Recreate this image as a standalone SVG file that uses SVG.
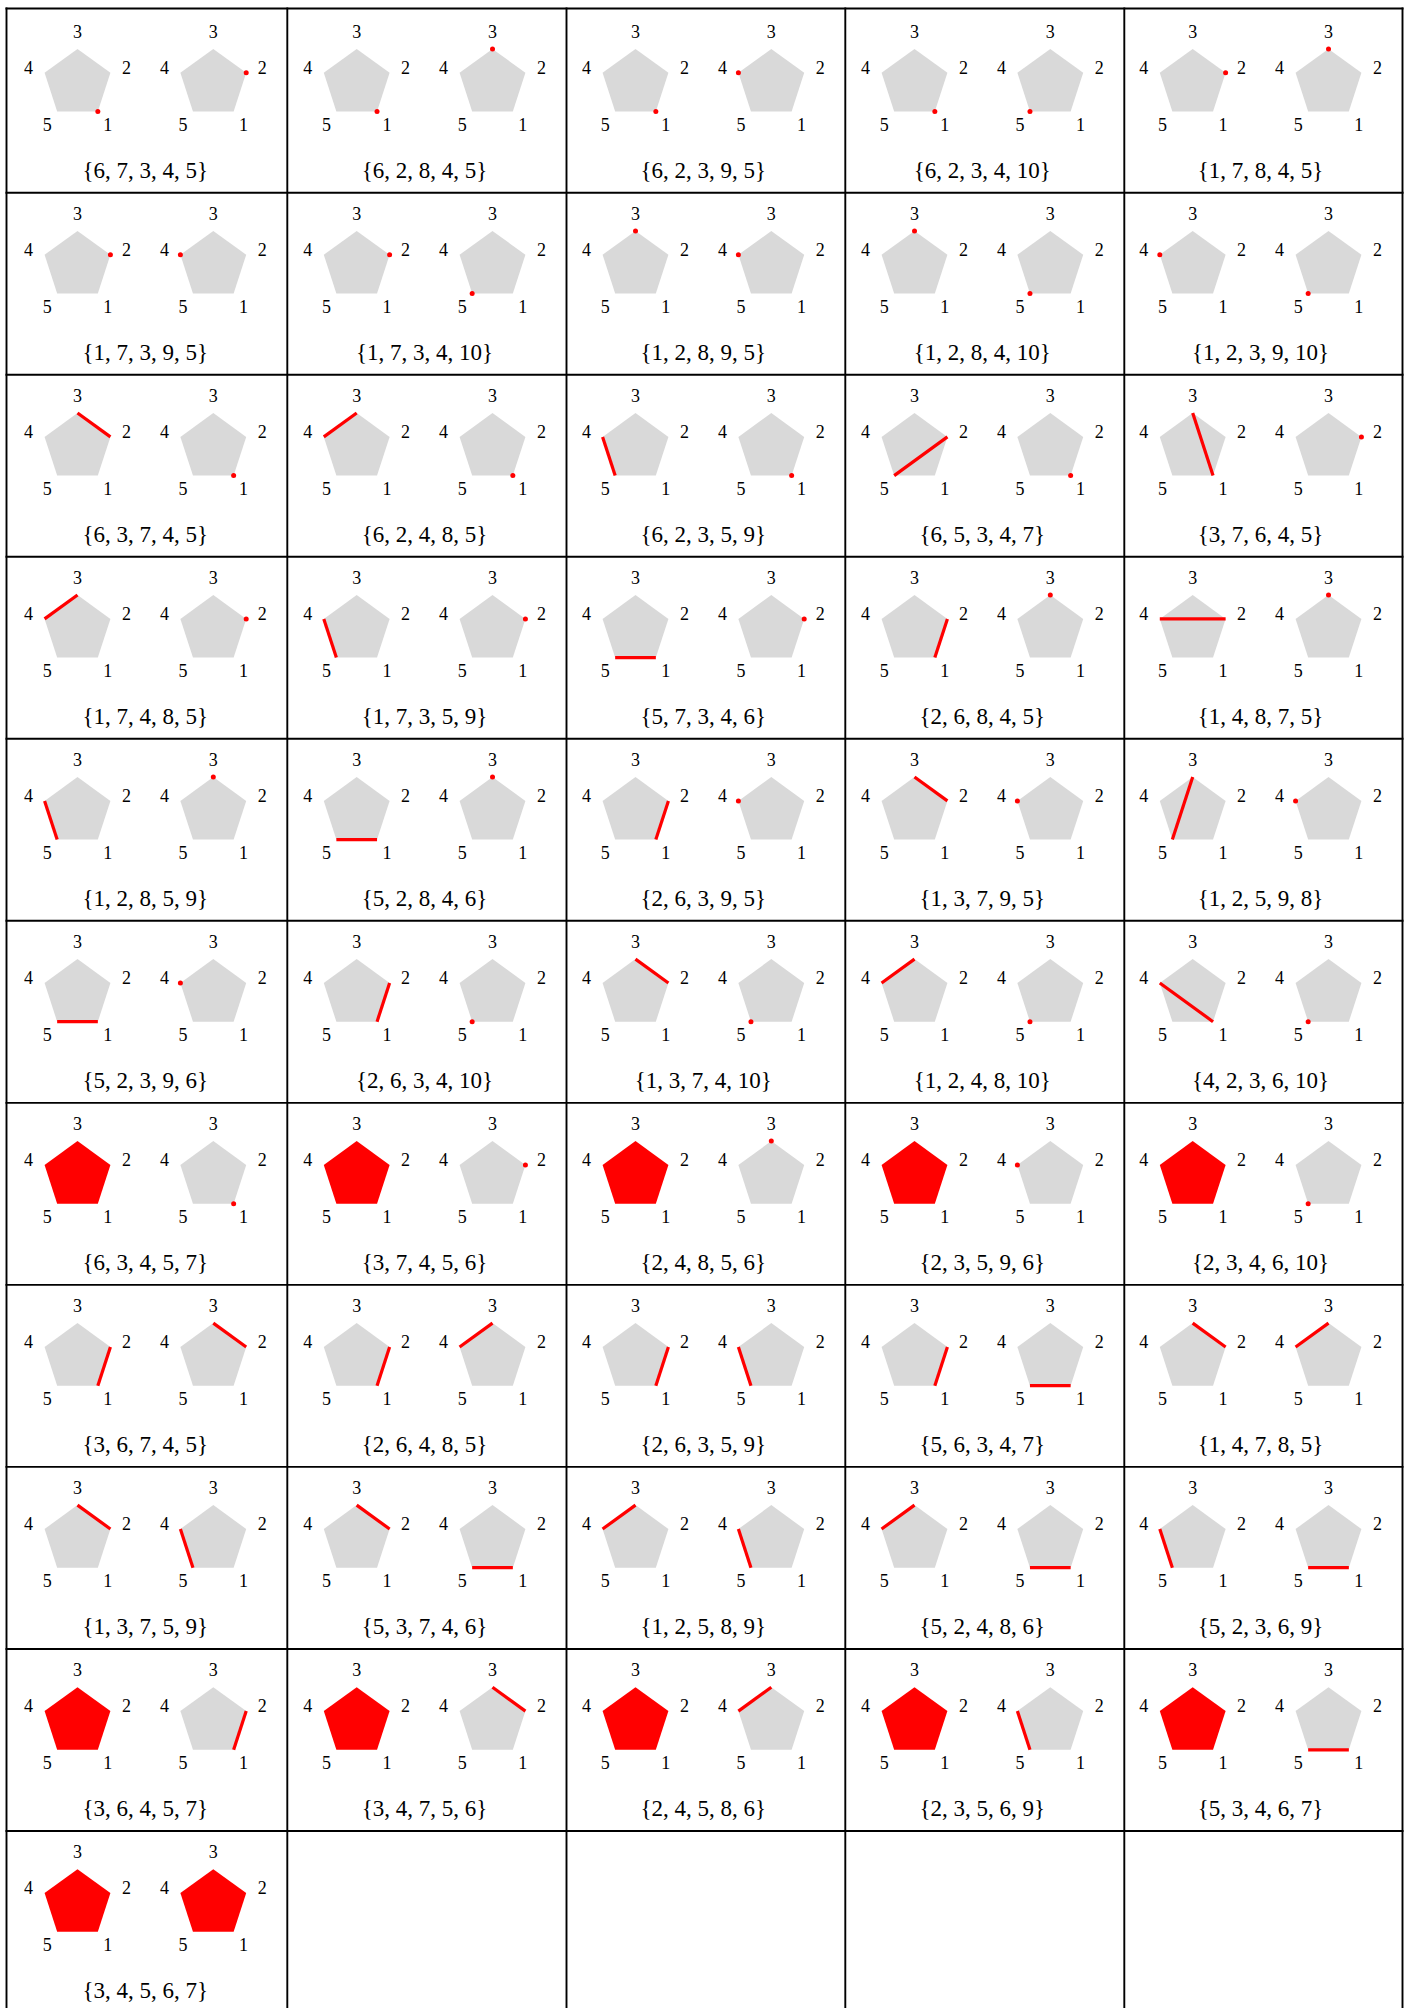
<svg xmlns="http://www.w3.org/2000/svg" xmlns:xlink="http://www.w3.org/1999/xlink" width="1418" height="2008" viewBox="0 0 1418 2008">
<style>
.v{font-family:"Liberation Serif","Times New Roman",serif;font-size:18px;text-anchor:middle;fill:#000}
.t{font-family:"Liberation Serif","Times New Roman",serif;font-size:23px;text-anchor:middle;fill:#000}
.d{fill:#ff0000}
.e{stroke:#ff0000;stroke-width:3.2;fill:none}
.g line{stroke:#000;stroke-width:1.9}
</style>
<defs>
<polygon id="pg" points="0,-34.6 32.91,-10.69 20.34,27.99 -20.34,27.99 -32.91,-10.69" fill="#d9d9d9"/>
<polygon id="pr" points="0,-34.6 32.91,-10.69 20.34,27.99 -20.34,27.99 -32.91,-10.69" fill="#ff0000"/>
</defs>
<rect width="1418" height="2008" fill="#fff"/>
<g id="grid" class="g">
<line x1="5.5" y1="8.5" x2="1403.5" y2="8.5"/>
<line x1="5.5" y1="192.7" x2="1403.5" y2="192.7"/>
<line x1="5.5" y1="374.73" x2="1403.5" y2="374.73"/>
<line x1="5.5" y1="556.76" x2="1403.5" y2="556.76"/>
<line x1="5.5" y1="738.79" x2="1403.5" y2="738.79"/>
<line x1="5.5" y1="920.82" x2="1403.5" y2="920.82"/>
<line x1="5.5" y1="1102.85" x2="1403.5" y2="1102.85"/>
<line x1="5.5" y1="1284.88" x2="1403.5" y2="1284.88"/>
<line x1="5.5" y1="1466.91" x2="1403.5" y2="1466.91"/>
<line x1="5.5" y1="1648.94" x2="1403.5" y2="1648.94"/>
<line x1="5.5" y1="1830.97" x2="1403.5" y2="1830.97"/>
<line x1="6.5" y1="7.5" x2="6.5" y2="2008"/>
<line x1="287.3" y1="7.5" x2="287.3" y2="2008"/>
<line x1="566.5" y1="7.5" x2="566.5" y2="2008"/>
<line x1="845.3" y1="7.5" x2="845.3" y2="2008"/>
<line x1="1124.3" y1="7.5" x2="1124.3" y2="2008"/>
<line x1="1402.5" y1="7.5" x2="1402.5" y2="2008"/>
</g>
<g id="connectors"/>

<!-- Row 1 -->
<g id="c1-1"><g transform="translate(77.5,83.5)"><use href="#pg"/><circle class="d" cx="20.34" cy="27.99" r="2.5"/><text class="v" y="-45.7">3</text><text class="v" x="48.9" y="-10">2</text><text class="v" x="30.2" y="47.3">1</text><text class="v" x="-30.2" y="47.3">5</text><text class="v" x="-48.9" y="-10">4</text></g><g transform="translate(213.3,83.5)"><use href="#pg"/><circle class="d" cx="32.91" cy="-10.69" r="2.5"/><text class="v" y="-45.7">3</text><text class="v" x="48.9" y="-10">2</text><text class="v" x="30.2" y="47.3">1</text><text class="v" x="-30.2" y="47.3">5</text><text class="v" x="-48.9" y="-10">4</text></g><text class="t" x="145.3" y="178">{6, 7, 3, 4, 5}</text></g>
<g id="c1-2"><g transform="translate(356.7,83.5)"><use href="#pg"/><circle class="d" cx="20.34" cy="27.99" r="2.5"/><text class="v" y="-45.7">3</text><text class="v" x="48.9" y="-10">2</text><text class="v" x="30.2" y="47.3">1</text><text class="v" x="-30.2" y="47.3">5</text><text class="v" x="-48.9" y="-10">4</text></g><g transform="translate(492.5,83.5)"><use href="#pg"/><circle class="d" cx="0" cy="-34.6" r="2.5"/><text class="v" y="-45.7">3</text><text class="v" x="48.9" y="-10">2</text><text class="v" x="30.2" y="47.3">1</text><text class="v" x="-30.2" y="47.3">5</text><text class="v" x="-48.9" y="-10">4</text></g><text class="t" x="424.5" y="178">{6, 2, 8, 4, 5}</text></g>
<g id="c1-3"><g transform="translate(635.5,83.5)"><use href="#pg"/><circle class="d" cx="20.34" cy="27.99" r="2.5"/><text class="v" y="-45.7">3</text><text class="v" x="48.9" y="-10">2</text><text class="v" x="30.2" y="47.3">1</text><text class="v" x="-30.2" y="47.3">5</text><text class="v" x="-48.9" y="-10">4</text></g><g transform="translate(771.3,83.5)"><use href="#pg"/><circle class="d" cx="-32.91" cy="-10.69" r="2.5"/><text class="v" y="-45.7">3</text><text class="v" x="48.9" y="-10">2</text><text class="v" x="30.2" y="47.3">1</text><text class="v" x="-30.2" y="47.3">5</text><text class="v" x="-48.9" y="-10">4</text></g><text class="t" x="703.3" y="178">{6, 2, 3, 9, 5}</text></g>
<g id="c1-4"><g transform="translate(914.5,83.5)"><use href="#pg"/><circle class="d" cx="20.34" cy="27.99" r="2.5"/><text class="v" y="-45.7">3</text><text class="v" x="48.9" y="-10">2</text><text class="v" x="30.2" y="47.3">1</text><text class="v" x="-30.2" y="47.3">5</text><text class="v" x="-48.9" y="-10">4</text></g><g transform="translate(1050.3,83.5)"><use href="#pg"/><circle class="d" cx="-20.34" cy="27.99" r="2.5"/><text class="v" y="-45.7">3</text><text class="v" x="48.9" y="-10">2</text><text class="v" x="30.2" y="47.3">1</text><text class="v" x="-30.2" y="47.3">5</text><text class="v" x="-48.9" y="-10">4</text></g><text class="t" x="982.3" y="178">{6, 2, 3, 4, 10}</text></g>
<g id="c1-5"><g transform="translate(1192.7,83.5)"><use href="#pg"/><circle class="d" cx="32.91" cy="-10.69" r="2.5"/><text class="v" y="-45.7">3</text><text class="v" x="48.9" y="-10">2</text><text class="v" x="30.2" y="47.3">1</text><text class="v" x="-30.2" y="47.3">5</text><text class="v" x="-48.9" y="-10">4</text></g><g transform="translate(1328.5,83.5)"><use href="#pg"/><circle class="d" cx="0" cy="-34.6" r="2.5"/><text class="v" y="-45.7">3</text><text class="v" x="48.9" y="-10">2</text><text class="v" x="30.2" y="47.3">1</text><text class="v" x="-30.2" y="47.3">5</text><text class="v" x="-48.9" y="-10">4</text></g><text class="t" x="1260.5" y="178">{1, 7, 8, 4, 5}</text></g>

<!-- Row 2 -->
<g id="c2-1"><g transform="translate(77.5,265.5)"><use href="#pg"/><circle class="d" cx="32.91" cy="-10.69" r="2.5"/><text class="v" y="-45.7">3</text><text class="v" x="48.9" y="-10">2</text><text class="v" x="30.2" y="47.3">1</text><text class="v" x="-30.2" y="47.3">5</text><text class="v" x="-48.9" y="-10">4</text></g><g transform="translate(213.3,265.5)"><use href="#pg"/><circle class="d" cx="-32.91" cy="-10.69" r="2.5"/><text class="v" y="-45.7">3</text><text class="v" x="48.9" y="-10">2</text><text class="v" x="30.2" y="47.3">1</text><text class="v" x="-30.2" y="47.3">5</text><text class="v" x="-48.9" y="-10">4</text></g><text class="t" x="145.3" y="360">{1, 7, 3, 9, 5}</text></g>
<g id="c2-2"><g transform="translate(356.7,265.5)"><use href="#pg"/><circle class="d" cx="32.91" cy="-10.69" r="2.5"/><text class="v" y="-45.7">3</text><text class="v" x="48.9" y="-10">2</text><text class="v" x="30.2" y="47.3">1</text><text class="v" x="-30.2" y="47.3">5</text><text class="v" x="-48.9" y="-10">4</text></g><g transform="translate(492.5,265.5)"><use href="#pg"/><circle class="d" cx="-20.34" cy="27.99" r="2.5"/><text class="v" y="-45.7">3</text><text class="v" x="48.9" y="-10">2</text><text class="v" x="30.2" y="47.3">1</text><text class="v" x="-30.2" y="47.3">5</text><text class="v" x="-48.9" y="-10">4</text></g><text class="t" x="424.5" y="360">{1, 7, 3, 4, 10}</text></g>
<g id="c2-3"><g transform="translate(635.5,265.5)"><use href="#pg"/><circle class="d" cx="0" cy="-34.6" r="2.5"/><text class="v" y="-45.7">3</text><text class="v" x="48.9" y="-10">2</text><text class="v" x="30.2" y="47.3">1</text><text class="v" x="-30.2" y="47.3">5</text><text class="v" x="-48.9" y="-10">4</text></g><g transform="translate(771.3,265.5)"><use href="#pg"/><circle class="d" cx="-32.91" cy="-10.69" r="2.5"/><text class="v" y="-45.7">3</text><text class="v" x="48.9" y="-10">2</text><text class="v" x="30.2" y="47.3">1</text><text class="v" x="-30.2" y="47.3">5</text><text class="v" x="-48.9" y="-10">4</text></g><text class="t" x="703.3" y="360">{1, 2, 8, 9, 5}</text></g>
<g id="c2-4"><g transform="translate(914.5,265.5)"><use href="#pg"/><circle class="d" cx="0" cy="-34.6" r="2.5"/><text class="v" y="-45.7">3</text><text class="v" x="48.9" y="-10">2</text><text class="v" x="30.2" y="47.3">1</text><text class="v" x="-30.2" y="47.3">5</text><text class="v" x="-48.9" y="-10">4</text></g><g transform="translate(1050.3,265.5)"><use href="#pg"/><circle class="d" cx="-20.34" cy="27.99" r="2.5"/><text class="v" y="-45.7">3</text><text class="v" x="48.9" y="-10">2</text><text class="v" x="30.2" y="47.3">1</text><text class="v" x="-30.2" y="47.3">5</text><text class="v" x="-48.9" y="-10">4</text></g><text class="t" x="982.3" y="360">{1, 2, 8, 4, 10}</text></g>
<g id="c2-5"><g transform="translate(1192.7,265.5)"><use href="#pg"/><circle class="d" cx="-32.91" cy="-10.69" r="2.5"/><text class="v" y="-45.7">3</text><text class="v" x="48.9" y="-10">2</text><text class="v" x="30.2" y="47.3">1</text><text class="v" x="-30.2" y="47.3">5</text><text class="v" x="-48.9" y="-10">4</text></g><g transform="translate(1328.5,265.5)"><use href="#pg"/><circle class="d" cx="-20.34" cy="27.99" r="2.5"/><text class="v" y="-45.7">3</text><text class="v" x="48.9" y="-10">2</text><text class="v" x="30.2" y="47.3">1</text><text class="v" x="-30.2" y="47.3">5</text><text class="v" x="-48.9" y="-10">4</text></g><text class="t" x="1260.5" y="360">{1, 2, 3, 9, 10}</text></g>

<!-- Row 3 -->
<g id="c3-1"><g transform="translate(77.5,447.6)"><use href="#pg"/><line class="e" x1="0" y1="-34.6" x2="32.91" y2="-10.69"/><text class="v" y="-45.7">3</text><text class="v" x="48.9" y="-10">2</text><text class="v" x="30.2" y="47.3">1</text><text class="v" x="-30.2" y="47.3">5</text><text class="v" x="-48.9" y="-10">4</text></g><g transform="translate(213.3,447.6)"><use href="#pg"/><circle class="d" cx="20.34" cy="27.99" r="2.5"/><text class="v" y="-45.7">3</text><text class="v" x="48.9" y="-10">2</text><text class="v" x="30.2" y="47.3">1</text><text class="v" x="-30.2" y="47.3">5</text><text class="v" x="-48.9" y="-10">4</text></g><text class="t" x="145.3" y="542.1">{6, 3, 7, 4, 5}</text></g>
<g id="c3-2"><g transform="translate(356.7,447.6)"><use href="#pg"/><line class="e" x1="0" y1="-34.6" x2="-32.91" y2="-10.69"/><text class="v" y="-45.7">3</text><text class="v" x="48.9" y="-10">2</text><text class="v" x="30.2" y="47.3">1</text><text class="v" x="-30.2" y="47.3">5</text><text class="v" x="-48.9" y="-10">4</text></g><g transform="translate(492.5,447.6)"><use href="#pg"/><circle class="d" cx="20.34" cy="27.99" r="2.5"/><text class="v" y="-45.7">3</text><text class="v" x="48.9" y="-10">2</text><text class="v" x="30.2" y="47.3">1</text><text class="v" x="-30.2" y="47.3">5</text><text class="v" x="-48.9" y="-10">4</text></g><text class="t" x="424.5" y="542.1">{6, 2, 4, 8, 5}</text></g>
<g id="c3-3"><g transform="translate(635.5,447.6)"><use href="#pg"/><line class="e" x1="-32.91" y1="-10.69" x2="-20.34" y2="27.99"/><text class="v" y="-45.7">3</text><text class="v" x="48.9" y="-10">2</text><text class="v" x="30.2" y="47.3">1</text><text class="v" x="-30.2" y="47.3">5</text><text class="v" x="-48.9" y="-10">4</text></g><g transform="translate(771.3,447.6)"><use href="#pg"/><circle class="d" cx="20.34" cy="27.99" r="2.5"/><text class="v" y="-45.7">3</text><text class="v" x="48.9" y="-10">2</text><text class="v" x="30.2" y="47.3">1</text><text class="v" x="-30.2" y="47.3">5</text><text class="v" x="-48.9" y="-10">4</text></g><text class="t" x="703.3" y="542.1">{6, 2, 3, 5, 9}</text></g>
<g id="c3-4"><g transform="translate(914.5,447.6)"><use href="#pg"/><line class="e" x1="-20.34" y1="27.99" x2="32.91" y2="-10.69"/><text class="v" y="-45.7">3</text><text class="v" x="48.9" y="-10">2</text><text class="v" x="30.2" y="47.3">1</text><text class="v" x="-30.2" y="47.3">5</text><text class="v" x="-48.9" y="-10">4</text></g><g transform="translate(1050.3,447.6)"><use href="#pg"/><circle class="d" cx="20.34" cy="27.99" r="2.5"/><text class="v" y="-45.7">3</text><text class="v" x="48.9" y="-10">2</text><text class="v" x="30.2" y="47.3">1</text><text class="v" x="-30.2" y="47.3">5</text><text class="v" x="-48.9" y="-10">4</text></g><text class="t" x="982.3" y="542.1">{6, 5, 3, 4, 7}</text></g>
<g id="c3-5"><g transform="translate(1192.7,447.6)"><use href="#pg"/><line class="e" x1="0" y1="-34.6" x2="20.34" y2="27.99"/><text class="v" y="-45.7">3</text><text class="v" x="48.9" y="-10">2</text><text class="v" x="30.2" y="47.3">1</text><text class="v" x="-30.2" y="47.3">5</text><text class="v" x="-48.9" y="-10">4</text></g><g transform="translate(1328.5,447.6)"><use href="#pg"/><circle class="d" cx="32.91" cy="-10.69" r="2.5"/><text class="v" y="-45.7">3</text><text class="v" x="48.9" y="-10">2</text><text class="v" x="30.2" y="47.3">1</text><text class="v" x="-30.2" y="47.3">5</text><text class="v" x="-48.9" y="-10">4</text></g><text class="t" x="1260.5" y="542.1">{3, 7, 6, 4, 5}</text></g>

<!-- Row 4 -->
<g id="c4-1"><g transform="translate(77.5,629.6)"><use href="#pg"/><line class="e" x1="0" y1="-34.6" x2="-32.91" y2="-10.69"/><text class="v" y="-45.7">3</text><text class="v" x="48.9" y="-10">2</text><text class="v" x="30.2" y="47.3">1</text><text class="v" x="-30.2" y="47.3">5</text><text class="v" x="-48.9" y="-10">4</text></g><g transform="translate(213.3,629.6)"><use href="#pg"/><circle class="d" cx="32.91" cy="-10.69" r="2.5"/><text class="v" y="-45.7">3</text><text class="v" x="48.9" y="-10">2</text><text class="v" x="30.2" y="47.3">1</text><text class="v" x="-30.2" y="47.3">5</text><text class="v" x="-48.9" y="-10">4</text></g><text class="t" x="145.3" y="724.1">{1, 7, 4, 8, 5}</text></g>
<g id="c4-2"><g transform="translate(356.7,629.6)"><use href="#pg"/><line class="e" x1="-32.91" y1="-10.69" x2="-20.34" y2="27.99"/><text class="v" y="-45.7">3</text><text class="v" x="48.9" y="-10">2</text><text class="v" x="30.2" y="47.3">1</text><text class="v" x="-30.2" y="47.3">5</text><text class="v" x="-48.9" y="-10">4</text></g><g transform="translate(492.5,629.6)"><use href="#pg"/><circle class="d" cx="32.91" cy="-10.69" r="2.5"/><text class="v" y="-45.7">3</text><text class="v" x="48.9" y="-10">2</text><text class="v" x="30.2" y="47.3">1</text><text class="v" x="-30.2" y="47.3">5</text><text class="v" x="-48.9" y="-10">4</text></g><text class="t" x="424.5" y="724.1">{1, 7, 3, 5, 9}</text></g>
<g id="c4-3"><g transform="translate(635.5,629.6)"><use href="#pg"/><line class="e" x1="-20.34" y1="27.99" x2="20.34" y2="27.99"/><text class="v" y="-45.7">3</text><text class="v" x="48.9" y="-10">2</text><text class="v" x="30.2" y="47.3">1</text><text class="v" x="-30.2" y="47.3">5</text><text class="v" x="-48.9" y="-10">4</text></g><g transform="translate(771.3,629.6)"><use href="#pg"/><circle class="d" cx="32.91" cy="-10.69" r="2.5"/><text class="v" y="-45.7">3</text><text class="v" x="48.9" y="-10">2</text><text class="v" x="30.2" y="47.3">1</text><text class="v" x="-30.2" y="47.3">5</text><text class="v" x="-48.9" y="-10">4</text></g><text class="t" x="703.3" y="724.1">{5, 7, 3, 4, 6}</text></g>
<g id="c4-4"><g transform="translate(914.5,629.6)"><use href="#pg"/><line class="e" x1="20.34" y1="27.99" x2="32.91" y2="-10.69"/><text class="v" y="-45.7">3</text><text class="v" x="48.9" y="-10">2</text><text class="v" x="30.2" y="47.3">1</text><text class="v" x="-30.2" y="47.3">5</text><text class="v" x="-48.9" y="-10">4</text></g><g transform="translate(1050.3,629.6)"><use href="#pg"/><circle class="d" cx="0" cy="-34.6" r="2.5"/><text class="v" y="-45.7">3</text><text class="v" x="48.9" y="-10">2</text><text class="v" x="30.2" y="47.3">1</text><text class="v" x="-30.2" y="47.3">5</text><text class="v" x="-48.9" y="-10">4</text></g><text class="t" x="982.3" y="724.1">{2, 6, 8, 4, 5}</text></g>
<g id="c4-5"><g transform="translate(1192.7,629.6)"><use href="#pg"/><line class="e" x1="-32.91" y1="-10.69" x2="32.91" y2="-10.69"/><text class="v" y="-45.7">3</text><text class="v" x="48.9" y="-10">2</text><text class="v" x="30.2" y="47.3">1</text><text class="v" x="-30.2" y="47.3">5</text><text class="v" x="-48.9" y="-10">4</text></g><g transform="translate(1328.5,629.6)"><use href="#pg"/><circle class="d" cx="0" cy="-34.6" r="2.5"/><text class="v" y="-45.7">3</text><text class="v" x="48.9" y="-10">2</text><text class="v" x="30.2" y="47.3">1</text><text class="v" x="-30.2" y="47.3">5</text><text class="v" x="-48.9" y="-10">4</text></g><text class="t" x="1260.5" y="724.1">{1, 4, 8, 7, 5}</text></g>

<!-- Row 5 -->
<g id="c5-1"><g transform="translate(77.5,811.6)"><use href="#pg"/><line class="e" x1="-32.91" y1="-10.69" x2="-20.34" y2="27.99"/><text class="v" y="-45.7">3</text><text class="v" x="48.9" y="-10">2</text><text class="v" x="30.2" y="47.3">1</text><text class="v" x="-30.2" y="47.3">5</text><text class="v" x="-48.9" y="-10">4</text></g><g transform="translate(213.3,811.6)"><use href="#pg"/><circle class="d" cx="0" cy="-34.6" r="2.5"/><text class="v" y="-45.7">3</text><text class="v" x="48.9" y="-10">2</text><text class="v" x="30.2" y="47.3">1</text><text class="v" x="-30.2" y="47.3">5</text><text class="v" x="-48.9" y="-10">4</text></g><text class="t" x="145.3" y="906.1">{1, 2, 8, 5, 9}</text></g>
<g id="c5-2"><g transform="translate(356.7,811.6)"><use href="#pg"/><line class="e" x1="-20.34" y1="27.99" x2="20.34" y2="27.99"/><text class="v" y="-45.7">3</text><text class="v" x="48.9" y="-10">2</text><text class="v" x="30.2" y="47.3">1</text><text class="v" x="-30.2" y="47.3">5</text><text class="v" x="-48.9" y="-10">4</text></g><g transform="translate(492.5,811.6)"><use href="#pg"/><circle class="d" cx="0" cy="-34.6" r="2.5"/><text class="v" y="-45.7">3</text><text class="v" x="48.9" y="-10">2</text><text class="v" x="30.2" y="47.3">1</text><text class="v" x="-30.2" y="47.3">5</text><text class="v" x="-48.9" y="-10">4</text></g><text class="t" x="424.5" y="906.1">{5, 2, 8, 4, 6}</text></g>
<g id="c5-3"><g transform="translate(635.5,811.6)"><use href="#pg"/><line class="e" x1="20.34" y1="27.99" x2="32.91" y2="-10.69"/><text class="v" y="-45.7">3</text><text class="v" x="48.9" y="-10">2</text><text class="v" x="30.2" y="47.3">1</text><text class="v" x="-30.2" y="47.3">5</text><text class="v" x="-48.9" y="-10">4</text></g><g transform="translate(771.3,811.6)"><use href="#pg"/><circle class="d" cx="-32.91" cy="-10.69" r="2.5"/><text class="v" y="-45.7">3</text><text class="v" x="48.9" y="-10">2</text><text class="v" x="30.2" y="47.3">1</text><text class="v" x="-30.2" y="47.3">5</text><text class="v" x="-48.9" y="-10">4</text></g><text class="t" x="703.3" y="906.1">{2, 6, 3, 9, 5}</text></g>
<g id="c5-4"><g transform="translate(914.5,811.6)"><use href="#pg"/><line class="e" x1="0" y1="-34.6" x2="32.91" y2="-10.69"/><text class="v" y="-45.7">3</text><text class="v" x="48.9" y="-10">2</text><text class="v" x="30.2" y="47.3">1</text><text class="v" x="-30.2" y="47.3">5</text><text class="v" x="-48.9" y="-10">4</text></g><g transform="translate(1050.3,811.6)"><use href="#pg"/><circle class="d" cx="-32.91" cy="-10.69" r="2.5"/><text class="v" y="-45.7">3</text><text class="v" x="48.9" y="-10">2</text><text class="v" x="30.2" y="47.3">1</text><text class="v" x="-30.2" y="47.3">5</text><text class="v" x="-48.9" y="-10">4</text></g><text class="t" x="982.3" y="906.1">{1, 3, 7, 9, 5}</text></g>
<g id="c5-5"><g transform="translate(1192.7,811.6)"><use href="#pg"/><line class="e" x1="0" y1="-34.6" x2="-20.34" y2="27.99"/><text class="v" y="-45.7">3</text><text class="v" x="48.9" y="-10">2</text><text class="v" x="30.2" y="47.3">1</text><text class="v" x="-30.2" y="47.3">5</text><text class="v" x="-48.9" y="-10">4</text></g><g transform="translate(1328.5,811.6)"><use href="#pg"/><circle class="d" cx="-32.91" cy="-10.69" r="2.5"/><text class="v" y="-45.7">3</text><text class="v" x="48.9" y="-10">2</text><text class="v" x="30.2" y="47.3">1</text><text class="v" x="-30.2" y="47.3">5</text><text class="v" x="-48.9" y="-10">4</text></g><text class="t" x="1260.5" y="906.1">{1, 2, 5, 9, 8}</text></g>

<!-- Row 6 -->
<g id="c6-1"><g transform="translate(77.5,993.7)"><use href="#pg"/><line class="e" x1="-20.34" y1="27.99" x2="20.34" y2="27.99"/><text class="v" y="-45.7">3</text><text class="v" x="48.9" y="-10">2</text><text class="v" x="30.2" y="47.3">1</text><text class="v" x="-30.2" y="47.3">5</text><text class="v" x="-48.9" y="-10">4</text></g><g transform="translate(213.3,993.7)"><use href="#pg"/><circle class="d" cx="-32.91" cy="-10.69" r="2.5"/><text class="v" y="-45.7">3</text><text class="v" x="48.9" y="-10">2</text><text class="v" x="30.2" y="47.3">1</text><text class="v" x="-30.2" y="47.3">5</text><text class="v" x="-48.9" y="-10">4</text></g><text class="t" x="145.3" y="1088.2">{5, 2, 3, 9, 6}</text></g>
<g id="c6-2"><g transform="translate(356.7,993.7)"><use href="#pg"/><line class="e" x1="20.34" y1="27.99" x2="32.91" y2="-10.69"/><text class="v" y="-45.7">3</text><text class="v" x="48.9" y="-10">2</text><text class="v" x="30.2" y="47.3">1</text><text class="v" x="-30.2" y="47.3">5</text><text class="v" x="-48.9" y="-10">4</text></g><g transform="translate(492.5,993.7)"><use href="#pg"/><circle class="d" cx="-20.34" cy="27.99" r="2.5"/><text class="v" y="-45.7">3</text><text class="v" x="48.9" y="-10">2</text><text class="v" x="30.2" y="47.3">1</text><text class="v" x="-30.2" y="47.3">5</text><text class="v" x="-48.9" y="-10">4</text></g><text class="t" x="424.5" y="1088.2">{2, 6, 3, 4, 10}</text></g>
<g id="c6-3"><g transform="translate(635.5,993.7)"><use href="#pg"/><line class="e" x1="0" y1="-34.6" x2="32.91" y2="-10.69"/><text class="v" y="-45.7">3</text><text class="v" x="48.9" y="-10">2</text><text class="v" x="30.2" y="47.3">1</text><text class="v" x="-30.2" y="47.3">5</text><text class="v" x="-48.9" y="-10">4</text></g><g transform="translate(771.3,993.7)"><use href="#pg"/><circle class="d" cx="-20.34" cy="27.99" r="2.5"/><text class="v" y="-45.7">3</text><text class="v" x="48.9" y="-10">2</text><text class="v" x="30.2" y="47.3">1</text><text class="v" x="-30.2" y="47.3">5</text><text class="v" x="-48.9" y="-10">4</text></g><text class="t" x="703.3" y="1088.2">{1, 3, 7, 4, 10}</text></g>
<g id="c6-4"><g transform="translate(914.5,993.7)"><use href="#pg"/><line class="e" x1="0" y1="-34.6" x2="-32.91" y2="-10.69"/><text class="v" y="-45.7">3</text><text class="v" x="48.9" y="-10">2</text><text class="v" x="30.2" y="47.3">1</text><text class="v" x="-30.2" y="47.3">5</text><text class="v" x="-48.9" y="-10">4</text></g><g transform="translate(1050.3,993.7)"><use href="#pg"/><circle class="d" cx="-20.34" cy="27.99" r="2.5"/><text class="v" y="-45.7">3</text><text class="v" x="48.9" y="-10">2</text><text class="v" x="30.2" y="47.3">1</text><text class="v" x="-30.2" y="47.3">5</text><text class="v" x="-48.9" y="-10">4</text></g><text class="t" x="982.3" y="1088.2">{1, 2, 4, 8, 10}</text></g>
<g id="c6-5"><g transform="translate(1192.7,993.7)"><use href="#pg"/><line class="e" x1="-32.91" y1="-10.69" x2="20.34" y2="27.99"/><text class="v" y="-45.7">3</text><text class="v" x="48.9" y="-10">2</text><text class="v" x="30.2" y="47.3">1</text><text class="v" x="-30.2" y="47.3">5</text><text class="v" x="-48.9" y="-10">4</text></g><g transform="translate(1328.5,993.7)"><use href="#pg"/><circle class="d" cx="-20.34" cy="27.99" r="2.5"/><text class="v" y="-45.7">3</text><text class="v" x="48.9" y="-10">2</text><text class="v" x="30.2" y="47.3">1</text><text class="v" x="-30.2" y="47.3">5</text><text class="v" x="-48.9" y="-10">4</text></g><text class="t" x="1260.5" y="1088.2">{4, 2, 3, 6, 10}</text></g>

<!-- Row 7 -->
<g id="c7-1"><g transform="translate(77.5,1175.7)"><use href="#pr"/><text class="v" y="-45.7">3</text><text class="v" x="48.9" y="-10">2</text><text class="v" x="30.2" y="47.3">1</text><text class="v" x="-30.2" y="47.3">5</text><text class="v" x="-48.9" y="-10">4</text></g><g transform="translate(213.3,1175.7)"><use href="#pg"/><circle class="d" cx="20.34" cy="27.99" r="2.5"/><text class="v" y="-45.7">3</text><text class="v" x="48.9" y="-10">2</text><text class="v" x="30.2" y="47.3">1</text><text class="v" x="-30.2" y="47.3">5</text><text class="v" x="-48.9" y="-10">4</text></g><text class="t" x="145.3" y="1270.2">{6, 3, 4, 5, 7}</text></g>
<g id="c7-2"><g transform="translate(356.7,1175.7)"><use href="#pr"/><text class="v" y="-45.7">3</text><text class="v" x="48.9" y="-10">2</text><text class="v" x="30.2" y="47.3">1</text><text class="v" x="-30.2" y="47.3">5</text><text class="v" x="-48.9" y="-10">4</text></g><g transform="translate(492.5,1175.7)"><use href="#pg"/><circle class="d" cx="32.91" cy="-10.69" r="2.5"/><text class="v" y="-45.7">3</text><text class="v" x="48.9" y="-10">2</text><text class="v" x="30.2" y="47.3">1</text><text class="v" x="-30.2" y="47.3">5</text><text class="v" x="-48.9" y="-10">4</text></g><text class="t" x="424.5" y="1270.2">{3, 7, 4, 5, 6}</text></g>
<g id="c7-3"><g transform="translate(635.5,1175.7)"><use href="#pr"/><text class="v" y="-45.7">3</text><text class="v" x="48.9" y="-10">2</text><text class="v" x="30.2" y="47.3">1</text><text class="v" x="-30.2" y="47.3">5</text><text class="v" x="-48.9" y="-10">4</text></g><g transform="translate(771.3,1175.7)"><use href="#pg"/><circle class="d" cx="0" cy="-34.6" r="2.5"/><text class="v" y="-45.7">3</text><text class="v" x="48.9" y="-10">2</text><text class="v" x="30.2" y="47.3">1</text><text class="v" x="-30.2" y="47.3">5</text><text class="v" x="-48.9" y="-10">4</text></g><text class="t" x="703.3" y="1270.2">{2, 4, 8, 5, 6}</text></g>
<g id="c7-4"><g transform="translate(914.5,1175.7)"><use href="#pr"/><text class="v" y="-45.7">3</text><text class="v" x="48.9" y="-10">2</text><text class="v" x="30.2" y="47.3">1</text><text class="v" x="-30.2" y="47.3">5</text><text class="v" x="-48.9" y="-10">4</text></g><g transform="translate(1050.3,1175.7)"><use href="#pg"/><circle class="d" cx="-32.91" cy="-10.69" r="2.5"/><text class="v" y="-45.7">3</text><text class="v" x="48.9" y="-10">2</text><text class="v" x="30.2" y="47.3">1</text><text class="v" x="-30.2" y="47.3">5</text><text class="v" x="-48.9" y="-10">4</text></g><text class="t" x="982.3" y="1270.2">{2, 3, 5, 9, 6}</text></g>
<g id="c7-5"><g transform="translate(1192.7,1175.7)"><use href="#pr"/><text class="v" y="-45.7">3</text><text class="v" x="48.9" y="-10">2</text><text class="v" x="30.2" y="47.3">1</text><text class="v" x="-30.2" y="47.3">5</text><text class="v" x="-48.9" y="-10">4</text></g><g transform="translate(1328.5,1175.7)"><use href="#pg"/><circle class="d" cx="-20.34" cy="27.99" r="2.5"/><text class="v" y="-45.7">3</text><text class="v" x="48.9" y="-10">2</text><text class="v" x="30.2" y="47.3">1</text><text class="v" x="-30.2" y="47.3">5</text><text class="v" x="-48.9" y="-10">4</text></g><text class="t" x="1260.5" y="1270.2">{2, 3, 4, 6, 10}</text></g>

<!-- Row 8 -->
<g id="c8-1"><g transform="translate(77.5,1357.7)"><use href="#pg"/><line class="e" x1="20.34" y1="27.99" x2="32.91" y2="-10.69"/><text class="v" y="-45.7">3</text><text class="v" x="48.9" y="-10">2</text><text class="v" x="30.2" y="47.3">1</text><text class="v" x="-30.2" y="47.3">5</text><text class="v" x="-48.9" y="-10">4</text></g><g transform="translate(213.3,1357.7)"><use href="#pg"/><line class="e" x1="0" y1="-34.6" x2="32.91" y2="-10.69"/><text class="v" y="-45.7">3</text><text class="v" x="48.9" y="-10">2</text><text class="v" x="30.2" y="47.3">1</text><text class="v" x="-30.2" y="47.3">5</text><text class="v" x="-48.9" y="-10">4</text></g><text class="t" x="145.3" y="1452.2">{3, 6, 7, 4, 5}</text></g>
<g id="c8-2"><g transform="translate(356.7,1357.7)"><use href="#pg"/><line class="e" x1="20.34" y1="27.99" x2="32.91" y2="-10.69"/><text class="v" y="-45.7">3</text><text class="v" x="48.9" y="-10">2</text><text class="v" x="30.2" y="47.3">1</text><text class="v" x="-30.2" y="47.3">5</text><text class="v" x="-48.9" y="-10">4</text></g><g transform="translate(492.5,1357.7)"><use href="#pg"/><line class="e" x1="0" y1="-34.6" x2="-32.91" y2="-10.69"/><text class="v" y="-45.7">3</text><text class="v" x="48.9" y="-10">2</text><text class="v" x="30.2" y="47.3">1</text><text class="v" x="-30.2" y="47.3">5</text><text class="v" x="-48.9" y="-10">4</text></g><text class="t" x="424.5" y="1452.2">{2, 6, 4, 8, 5}</text></g>
<g id="c8-3"><g transform="translate(635.5,1357.7)"><use href="#pg"/><line class="e" x1="20.34" y1="27.99" x2="32.91" y2="-10.69"/><text class="v" y="-45.7">3</text><text class="v" x="48.9" y="-10">2</text><text class="v" x="30.2" y="47.3">1</text><text class="v" x="-30.2" y="47.3">5</text><text class="v" x="-48.9" y="-10">4</text></g><g transform="translate(771.3,1357.7)"><use href="#pg"/><line class="e" x1="-32.91" y1="-10.69" x2="-20.34" y2="27.99"/><text class="v" y="-45.7">3</text><text class="v" x="48.9" y="-10">2</text><text class="v" x="30.2" y="47.3">1</text><text class="v" x="-30.2" y="47.3">5</text><text class="v" x="-48.9" y="-10">4</text></g><text class="t" x="703.3" y="1452.2">{2, 6, 3, 5, 9}</text></g>
<g id="c8-4"><g transform="translate(914.5,1357.7)"><use href="#pg"/><line class="e" x1="20.34" y1="27.99" x2="32.91" y2="-10.69"/><text class="v" y="-45.7">3</text><text class="v" x="48.9" y="-10">2</text><text class="v" x="30.2" y="47.3">1</text><text class="v" x="-30.2" y="47.3">5</text><text class="v" x="-48.9" y="-10">4</text></g><g transform="translate(1050.3,1357.7)"><use href="#pg"/><line class="e" x1="-20.34" y1="27.99" x2="20.34" y2="27.99"/><text class="v" y="-45.7">3</text><text class="v" x="48.9" y="-10">2</text><text class="v" x="30.2" y="47.3">1</text><text class="v" x="-30.2" y="47.3">5</text><text class="v" x="-48.9" y="-10">4</text></g><text class="t" x="982.3" y="1452.2">{5, 6, 3, 4, 7}</text></g>
<g id="c8-5"><g transform="translate(1192.7,1357.7)"><use href="#pg"/><line class="e" x1="0" y1="-34.6" x2="32.91" y2="-10.69"/><text class="v" y="-45.7">3</text><text class="v" x="48.9" y="-10">2</text><text class="v" x="30.2" y="47.3">1</text><text class="v" x="-30.2" y="47.3">5</text><text class="v" x="-48.9" y="-10">4</text></g><g transform="translate(1328.5,1357.7)"><use href="#pg"/><line class="e" x1="0" y1="-34.6" x2="-32.91" y2="-10.69"/><text class="v" y="-45.7">3</text><text class="v" x="48.9" y="-10">2</text><text class="v" x="30.2" y="47.3">1</text><text class="v" x="-30.2" y="47.3">5</text><text class="v" x="-48.9" y="-10">4</text></g><text class="t" x="1260.5" y="1452.2">{1, 4, 7, 8, 5}</text></g>

<!-- Row 9 -->
<g id="c9-1"><g transform="translate(77.5,1539.7)"><use href="#pg"/><line class="e" x1="0" y1="-34.6" x2="32.91" y2="-10.69"/><text class="v" y="-45.7">3</text><text class="v" x="48.9" y="-10">2</text><text class="v" x="30.2" y="47.3">1</text><text class="v" x="-30.2" y="47.3">5</text><text class="v" x="-48.9" y="-10">4</text></g><g transform="translate(213.3,1539.7)"><use href="#pg"/><line class="e" x1="-32.91" y1="-10.69" x2="-20.34" y2="27.99"/><text class="v" y="-45.7">3</text><text class="v" x="48.9" y="-10">2</text><text class="v" x="30.2" y="47.3">1</text><text class="v" x="-30.2" y="47.3">5</text><text class="v" x="-48.9" y="-10">4</text></g><text class="t" x="145.3" y="1634.2">{1, 3, 7, 5, 9}</text></g>
<g id="c9-2"><g transform="translate(356.7,1539.7)"><use href="#pg"/><line class="e" x1="0" y1="-34.6" x2="32.91" y2="-10.69"/><text class="v" y="-45.7">3</text><text class="v" x="48.9" y="-10">2</text><text class="v" x="30.2" y="47.3">1</text><text class="v" x="-30.2" y="47.3">5</text><text class="v" x="-48.9" y="-10">4</text></g><g transform="translate(492.5,1539.7)"><use href="#pg"/><line class="e" x1="-20.34" y1="27.99" x2="20.34" y2="27.99"/><text class="v" y="-45.7">3</text><text class="v" x="48.9" y="-10">2</text><text class="v" x="30.2" y="47.3">1</text><text class="v" x="-30.2" y="47.3">5</text><text class="v" x="-48.9" y="-10">4</text></g><text class="t" x="424.5" y="1634.2">{5, 3, 7, 4, 6}</text></g>
<g id="c9-3"><g transform="translate(635.5,1539.7)"><use href="#pg"/><line class="e" x1="0" y1="-34.6" x2="-32.91" y2="-10.69"/><text class="v" y="-45.7">3</text><text class="v" x="48.9" y="-10">2</text><text class="v" x="30.2" y="47.3">1</text><text class="v" x="-30.2" y="47.3">5</text><text class="v" x="-48.9" y="-10">4</text></g><g transform="translate(771.3,1539.7)"><use href="#pg"/><line class="e" x1="-32.91" y1="-10.69" x2="-20.34" y2="27.99"/><text class="v" y="-45.7">3</text><text class="v" x="48.9" y="-10">2</text><text class="v" x="30.2" y="47.3">1</text><text class="v" x="-30.2" y="47.3">5</text><text class="v" x="-48.9" y="-10">4</text></g><text class="t" x="703.3" y="1634.2">{1, 2, 5, 8, 9}</text></g>
<g id="c9-4"><g transform="translate(914.5,1539.7)"><use href="#pg"/><line class="e" x1="0" y1="-34.6" x2="-32.91" y2="-10.69"/><text class="v" y="-45.7">3</text><text class="v" x="48.9" y="-10">2</text><text class="v" x="30.2" y="47.3">1</text><text class="v" x="-30.2" y="47.3">5</text><text class="v" x="-48.9" y="-10">4</text></g><g transform="translate(1050.3,1539.7)"><use href="#pg"/><line class="e" x1="-20.34" y1="27.99" x2="20.34" y2="27.99"/><text class="v" y="-45.7">3</text><text class="v" x="48.9" y="-10">2</text><text class="v" x="30.2" y="47.3">1</text><text class="v" x="-30.2" y="47.3">5</text><text class="v" x="-48.9" y="-10">4</text></g><text class="t" x="982.3" y="1634.2">{5, 2, 4, 8, 6}</text></g>
<g id="c9-5"><g transform="translate(1192.7,1539.7)"><use href="#pg"/><line class="e" x1="-32.91" y1="-10.69" x2="-20.34" y2="27.99"/><text class="v" y="-45.7">3</text><text class="v" x="48.9" y="-10">2</text><text class="v" x="30.2" y="47.3">1</text><text class="v" x="-30.2" y="47.3">5</text><text class="v" x="-48.9" y="-10">4</text></g><g transform="translate(1328.5,1539.7)"><use href="#pg"/><line class="e" x1="-20.34" y1="27.99" x2="20.34" y2="27.99"/><text class="v" y="-45.7">3</text><text class="v" x="48.9" y="-10">2</text><text class="v" x="30.2" y="47.3">1</text><text class="v" x="-30.2" y="47.3">5</text><text class="v" x="-48.9" y="-10">4</text></g><text class="t" x="1260.5" y="1634.2">{5, 2, 3, 6, 9}</text></g>

<!-- Row 10 -->
<g id="c10-1"><g transform="translate(77.5,1721.8)"><use href="#pr"/><text class="v" y="-45.7">3</text><text class="v" x="48.9" y="-10">2</text><text class="v" x="30.2" y="47.3">1</text><text class="v" x="-30.2" y="47.3">5</text><text class="v" x="-48.9" y="-10">4</text></g><g transform="translate(213.3,1721.8)"><use href="#pg"/><line class="e" x1="20.34" y1="27.99" x2="32.91" y2="-10.69"/><text class="v" y="-45.7">3</text><text class="v" x="48.9" y="-10">2</text><text class="v" x="30.2" y="47.3">1</text><text class="v" x="-30.2" y="47.3">5</text><text class="v" x="-48.9" y="-10">4</text></g><text class="t" x="145.3" y="1816.3">{3, 6, 4, 5, 7}</text></g>
<g id="c10-2"><g transform="translate(356.7,1721.8)"><use href="#pr"/><text class="v" y="-45.7">3</text><text class="v" x="48.9" y="-10">2</text><text class="v" x="30.2" y="47.3">1</text><text class="v" x="-30.2" y="47.3">5</text><text class="v" x="-48.9" y="-10">4</text></g><g transform="translate(492.5,1721.8)"><use href="#pg"/><line class="e" x1="0" y1="-34.6" x2="32.91" y2="-10.69"/><text class="v" y="-45.7">3</text><text class="v" x="48.9" y="-10">2</text><text class="v" x="30.2" y="47.3">1</text><text class="v" x="-30.2" y="47.3">5</text><text class="v" x="-48.9" y="-10">4</text></g><text class="t" x="424.5" y="1816.3">{3, 4, 7, 5, 6}</text></g>
<g id="c10-3"><g transform="translate(635.5,1721.8)"><use href="#pr"/><text class="v" y="-45.7">3</text><text class="v" x="48.9" y="-10">2</text><text class="v" x="30.2" y="47.3">1</text><text class="v" x="-30.2" y="47.3">5</text><text class="v" x="-48.9" y="-10">4</text></g><g transform="translate(771.3,1721.8)"><use href="#pg"/><line class="e" x1="0" y1="-34.6" x2="-32.91" y2="-10.69"/><text class="v" y="-45.7">3</text><text class="v" x="48.9" y="-10">2</text><text class="v" x="30.2" y="47.3">1</text><text class="v" x="-30.2" y="47.3">5</text><text class="v" x="-48.9" y="-10">4</text></g><text class="t" x="703.3" y="1816.3">{2, 4, 5, 8, 6}</text></g>
<g id="c10-4"><g transform="translate(914.5,1721.8)"><use href="#pr"/><text class="v" y="-45.7">3</text><text class="v" x="48.9" y="-10">2</text><text class="v" x="30.2" y="47.3">1</text><text class="v" x="-30.2" y="47.3">5</text><text class="v" x="-48.9" y="-10">4</text></g><g transform="translate(1050.3,1721.8)"><use href="#pg"/><line class="e" x1="-32.91" y1="-10.69" x2="-20.34" y2="27.99"/><text class="v" y="-45.7">3</text><text class="v" x="48.9" y="-10">2</text><text class="v" x="30.2" y="47.3">1</text><text class="v" x="-30.2" y="47.3">5</text><text class="v" x="-48.9" y="-10">4</text></g><text class="t" x="982.3" y="1816.3">{2, 3, 5, 6, 9}</text></g>
<g id="c10-5"><g transform="translate(1192.7,1721.8)"><use href="#pr"/><text class="v" y="-45.7">3</text><text class="v" x="48.9" y="-10">2</text><text class="v" x="30.2" y="47.3">1</text><text class="v" x="-30.2" y="47.3">5</text><text class="v" x="-48.9" y="-10">4</text></g><g transform="translate(1328.5,1721.8)"><use href="#pg"/><line class="e" x1="-20.34" y1="27.99" x2="20.34" y2="27.99"/><text class="v" y="-45.7">3</text><text class="v" x="48.9" y="-10">2</text><text class="v" x="30.2" y="47.3">1</text><text class="v" x="-30.2" y="47.3">5</text><text class="v" x="-48.9" y="-10">4</text></g><text class="t" x="1260.5" y="1816.3">{5, 3, 4, 6, 7}</text></g>

<!-- Row 11 -->
<g id="c11-1"><g transform="translate(77.5,1903.8)"><use href="#pr"/><text class="v" y="-45.7">3</text><text class="v" x="48.9" y="-10">2</text><text class="v" x="30.2" y="47.3">1</text><text class="v" x="-30.2" y="47.3">5</text><text class="v" x="-48.9" y="-10">4</text></g><g transform="translate(213.3,1903.8)"><use href="#pr"/><text class="v" y="-45.7">3</text><text class="v" x="48.9" y="-10">2</text><text class="v" x="30.2" y="47.3">1</text><text class="v" x="-30.2" y="47.3">5</text><text class="v" x="-48.9" y="-10">4</text></g><text class="t" x="145.3" y="1998.3">{3, 4, 5, 6, 7}</text></g>
</svg>
